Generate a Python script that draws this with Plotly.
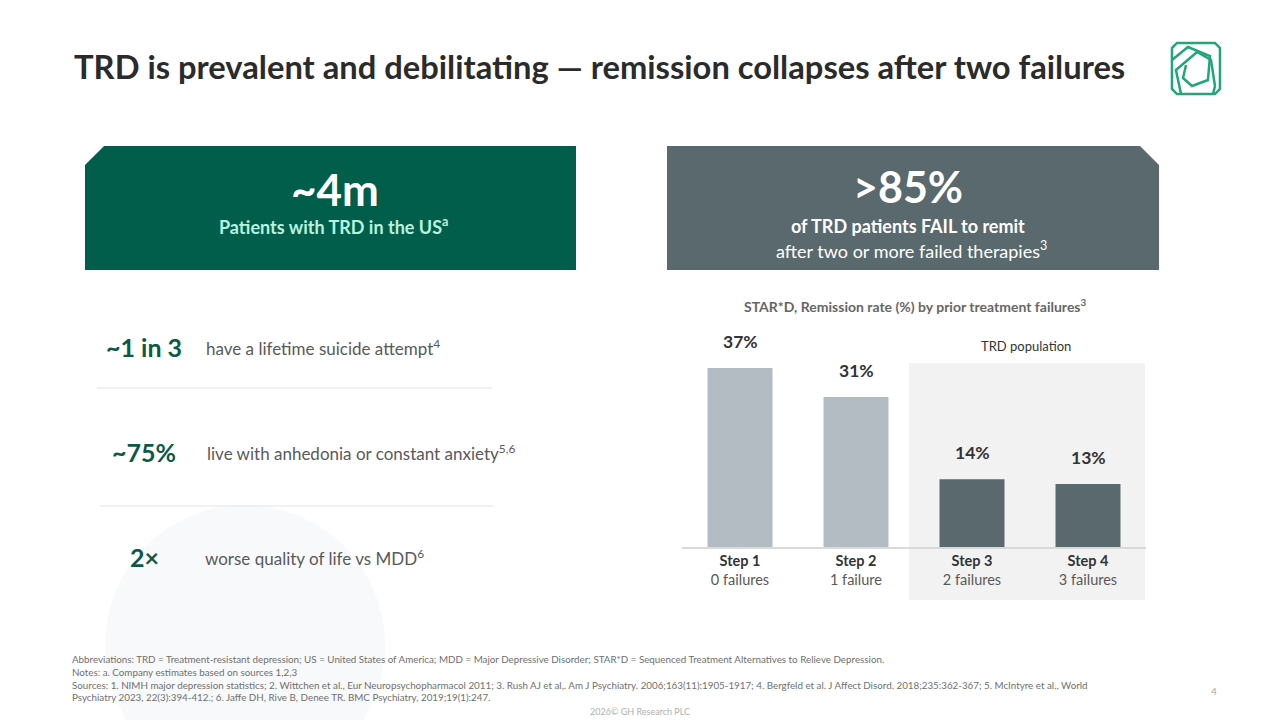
import plotly.graph_objects as go

# slide is 1280x720, everything placed in pixel terms then converted to paper
W, H = 1280, 720

def px(x):
    return x / W

def py(y):
    return 1 - y / H

# data
steps = ["Step 1", "Step 2", "Step 3", "Step 4"]
failures = ["0 failures", "1 failure", "2 failures", "3 failures"]
remission = [37, 31, 14, 13]

stat_values = ["~1 in 3", "~75%", "2×"]
stat_texts = ["have a lifetime suicide attempt<sup>4</sup>",
              "live with anhedonia or constant anxiety<sup>5,6</sup>",
              "worse quality of life vs MDD<sup>6</sup>"]

FONT = "Lato"
GREEN = "#005e4b"
SLATE = "#5a696d"
LIGHT_BAR = "#b2bcc2"
DARK_TXT = "#333333"
GREY_TXT = "#595959"
LOGO = "#22a678"

bar_colors = [LIGHT_BAR if i < 2 else SLATE for i in range(len(steps))]

fig = go.Figure()
fig.add_trace(go.Bar(x=steps, y=remission, marker=dict(color=bar_colors, line=dict(width=0)),
                     width=0.56, hoverinfo="skip"))

shapes = []
annotations = []

def ann(x, y, text, size, color, bold=False, xanchor="center", yanchor="middle", **kw):
    if bold:
        text = "<b>" + text + "</b>"
    annotations.append(dict(x=px(x), y=py(y), xref="paper", yref="paper", text=text,
                            showarrow=False, xanchor=xanchor, yanchor=yanchor,
                            font=dict(family=FONT, size=size, color=color), **kw))

def path(points, closed=True):
    s = "M " + " L ".join("%.4f,%.4f" % (px(a), py(b)) for a, b in points)
    return s + (" Z" if closed else "")

# faint sphere in the background
shapes.append(dict(type="circle", xref="paper", yref="paper", layer="below",
                   x0=px(105), x1=px(385), y0=py(785), y1=py(505),
                   fillcolor="rgba(232,235,237,0.3)", line=dict(width=0)))

# title
ann(72, 66, "TRD is prevalent and debilitating — remission collapses after two failures",
    32.7, "#2b2b2b", bold=True, xanchor="left")

# logo
shapes.append(dict(type="path", xref="paper", yref="paper",
                   path=path([(1177, 43), (1215, 43), (1220, 48), (1220, 89), (1215, 94),
                              (1177, 94), (1172, 89), (1172, 48)]),
                   line=dict(color=LOGO, width=2.5), fillcolor="rgba(0,0,0,0)"))
shapes.append(dict(type="path", xref="paper", yref="paper",
                   path=path([(1181, 94), (1176, 70), (1197, 52), (1211, 60), (1215, 86), (1213, 94)], closed=False),
                   line=dict(color=LOGO, width=2.5), fillcolor="rgba(0,0,0,0)"))
shapes.append(dict(type="path", xref="paper", yref="paper",
                   path=path([(1172, 60), (1188, 47), (1210, 56), (1208, 80), (1192, 86), (1183, 78), (1186, 65)], closed=False),
                   line=dict(color=LOGO, width=2.5), fillcolor="rgba(0,0,0,0)"))

# green box
shapes.append(dict(type="path", xref="paper", yref="paper", layer="below",
                   path=path([(104, 146), (576, 146), (576, 270), (85, 270), (85, 165)]),
                   fillcolor=GREEN, line=dict(width=0)))
ann(335, 189, "~4m", 44, "white", bold=True)
ann(333, 226, "Patients with TRD in the US<sup>a</sup>", 18, "#b9f2de", bold=True)

# slate box
shapes.append(dict(type="path", xref="paper", yref="paper", layer="below",
                   path=path([(667, 146), (1140, 146), (1159, 165), (1159, 270), (667, 270)]),
                   fillcolor=SLATE, line=dict(width=0)))
ann(908, 187, ">85%", 43, "white", bold=True)
ann(908, 226, "of TRD patients FAIL to remit", 18, "white", bold=True)
ann(911, 250, "after two or more failed therapies<sup>3</sup>", 18, "white")

# left stats
stat_y = [347, 452, 557]
text_x = [204, 205, 203]
for v, t, y, tx in zip(stat_values, stat_texts, stat_y, text_x):
    ann(144, y, v, 25, "#0b5a47", bold=True)
    ann(tx, y, t, 17, GREY_TXT, xanchor="left")
for y, x0, x1 in [(388, 97, 492), (506, 100, 494)]:
    shapes.append(dict(type="line", xref="paper", yref="paper", x0=px(x0), x1=px(x1),
                       y0=py(y), y1=py(y), line=dict(color="#e3e3e3", width=1)))

# chart title and TRD population panel
ann(915, 305, "STAR*D, Remission rate (%) by prior treatment failures<sup>3</sup>", 14, "#666666", bold=True)
shapes.append(dict(type="rect", xref="paper", yref="paper", layer="below",
                   x0=px(909), x1=px(1145), y0=py(600), y1=py(363),
                   fillcolor="#f2f2f2", line=dict(width=0)))
ann(1026, 346, "TRD population", 13, DARK_TXT)

# bar value labels
for s, v in zip(steps, remission):
    annotations.append(dict(x=s, y=v, xref="x", yref="y", text="<b>%d%%</b>" % v,
                            showarrow=False, yanchor="bottom", yshift=14,
                            font=dict(family=FONT, size=17.5, color=DARK_TXT)))

# footer
foot = [
    (659, "Abbreviations: TRD = Treatment-resistant depression; US = United States of America; MDD = Major Depressive Disorder; STAR*D = Sequenced Treatment Alternatives to Relieve Depression."),
    (672, "Notes: a. Company estimates based on sources 1,2,3"),
    (685, "Sources: 1. NIMH major depression statistics; 2. Wittchen et al., Eur Neuropsychopharmacol 2011; 3. Rush AJ et al,. Am J Psychiatry. 2006;163(11):1905-1917; 4. Bergfeld et al. J Affect Disord. 2018;235:362-367; 5. McIntyre et al., World"),
    (697, "Psychiatry 2023, 22(3):394-412.; 6. Jaffe DH, Rive B, Denee TR. BMC Psychiatry, 2019;19(1):247."),
]
for y, t in foot:
    ann(70, y, t, 9.8, "#6f6f6f", xanchor="left")
ann(640, 711, "2026© GH Research PLC", 9, "#b0b0b0")
ann(1214, 691, "4", 10, "#a8a8a8")

ticktext = ["<b>%s</b><br><span style='color:%s'>%s</span>" % (s, GREY_TXT, f)
            for s, f in zip(steps, failures)]

fig.update_layout(
    width=W, height=H,
    margin=dict(l=0, r=0, t=0, b=0),
    paper_bgcolor="white", plot_bgcolor="rgba(0,0,0,0)",
    showlegend=False,
    font=dict(family=FONT),
    shapes=shapes, annotations=annotations,
    xaxis=dict(domain=[px(682), px(1146)], type="category", tickvals=steps, ticktext=ticktext,
               showline=True, linecolor="#d9d9d9", linewidth=2, ticks="", showgrid=False,
               tickfont=dict(family=FONT, size=14.5, color=DARK_TXT), fixedrange=True),
    yaxis=dict(domain=[py(547), py(353.4)], range=[0, 40], visible=False, showgrid=False,
               fixedrange=True),
)

# drop the page's default body margin so the slide sits at the top-left corner
fig.write_html("out.html", config={"displayModeBar": False},
               post_script="document.body.style.margin='0';")
